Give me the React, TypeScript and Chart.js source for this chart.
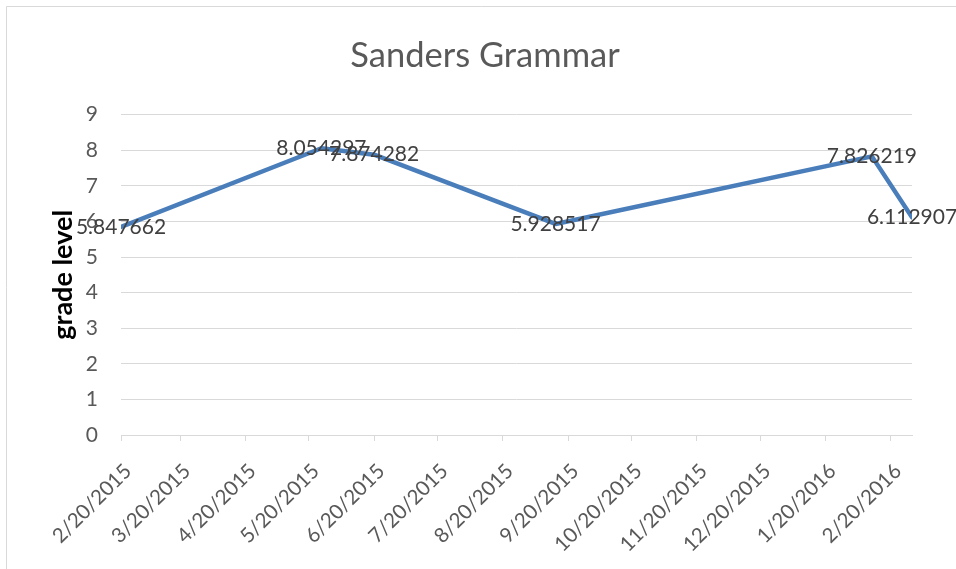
import React, { useEffect, useRef } from "react";
import { Chart, registerables } from "chart.js";

Chart.register(...registerables);

const chartTitle = "Sanders Grammar";
const yAxisTitle = "grade level";
const pointDates = ["2/20/2015", "5/26/2015", "6/20/2015", "9/14/2015", "2/11/2016", "3/1/2016"];
const gradeValues = [5.847662, 8.054297, 7.874282, 5.928517, 7.826219, 6.112907];
const xTickLabels = [
  "2/20/2015", "3/20/2015", "4/20/2015", "5/20/2015", "6/20/2015", "7/20/2015", "8/20/2015",
  "9/20/2015", "10/20/2015", "11/20/2015", "12/20/2015", "1/20/2016", "2/20/2016",
];
const yMin = 0;
const yMax = 9;

const FONT = "Lato, 'Open Sans', sans-serif";

function toDay(s: string): number {
  const [m, d, y] = s.split("/").map(Number);
  return Math.round(Date.UTC(y, m - 1, d) / 86400000);
}

const W = 956;
const H = 569;

export default function App() {
  const ref = useRef<HTMLCanvasElement | null>(null);

  useEffect(() => {
    if (!ref.current) return;
    const tickDays = xTickLabels.map(toDay);
    const labelByDay: Record<number, string> = {};
    xTickLabels.forEach((l, i) => (labelByDay[tickDays[i]] = l));
    const points = pointDates.map((d, i) => ({ x: toDay(d), y: gradeValues[i] }));

    const frame = {
      id: "frame",
      beforeDraw(chart: any) {
        const ctx = chart.ctx;
        ctx.save();
        ctx.fillStyle = "#ffffff";
        ctx.fillRect(0, 0, chart.width, chart.height);
        ctx.strokeStyle = "#d9d9d9";
        ctx.lineWidth = 1;
        ctx.beginPath();
        ctx.moveTo(6.5, chart.height);
        ctx.lineTo(6.5, 6.5);
        ctx.lineTo(chart.width, 6.5);
        ctx.stroke();
        ctx.restore();
      },
    };

    // centre the title on the whole chart frame (as the spreadsheet does)
    const titleCentre = {
      id: "titleCentre",
      afterLayout(chart: any) {
        const t = chart.titleBlock;
        if (t) {
          t.left = 14;
          t.right = chart.width;
        }
      },
    };

    const dataLabels = {
      id: "dataLabels",
      afterDatasetsDraw(chart: any) {
        const ctx = chart.ctx;
        const meta = chart.getDatasetMeta(0);
        ctx.save();
        ctx.font = `21px ${FONT}`;
        ctx.fillStyle = "#404040";
        ctx.textAlign = "center";
        ctx.textBaseline = "middle";
        meta.data.forEach((el: any, i: number) => {
          ctx.fillText(String(gradeValues[i]), el.x, el.y);
        });
        ctx.restore();
      },
    };

    const chart = new Chart(ref.current, {
      type: "line",
      data: {
        datasets: [
          {
            label: chartTitle,
            data: points,
            borderColor: "#4a7ebb",
            borderWidth: 4.5,
            pointRadius: 0,
            tension: 0,
            fill: false,
            borderCapStyle: "round",
            borderJoinStyle: "round",
          },
        ],
      },
      options: {
        animation: false,
        responsive: false,
        layout: { padding: { left: 0, right: 44, top: 0, bottom: 0 } },
        plugins: {
          legend: { display: false },
          tooltip: { enabled: false },
          title: {
            display: true,
            text: chartTitle,
            color: "#595959",
            font: { family: FONT, size: 34.5, weight: "normal" },
            padding: { top: 35, bottom: 38.2 },
          },
        },
        scales: {
          x: {
            type: "linear",
            min: toDay(pointDates[0]),
            max: toDay(pointDates[pointDates.length - 1]),
            afterBuildTicks(scale: any) {
              scale.ticks = tickDays.map((v) => ({ value: v }));
            },
            afterFit(scale: any) {
              scale.height = 134;
            },
            ticks: {
              autoSkip: false,
              maxRotation: 45,
              minRotation: 45,
              padding: 18,
              labelOffset: 7,
              color: "#595959",
              font: { family: FONT, size: 20.5 },
              callback: (v: any) => labelByDay[v as number] ?? "",
            },
            grid: {
              display: true,
              drawOnChartArea: false,
              drawTicks: true,
              tickLength: 6,
              color: "#d9d9d9",
            },
            border: { display: true, color: "#d9d9d9", width: 1 },
          },
          y: {
            min: yMin,
            max: yMax,
            afterFit(scale: any) {
              scale.width = 121;
            },
            ticks: {
              stepSize: 1,
              padding: 23,
              color: "#595959",
              font: { family: FONT, size: 21 },
            },
            grid: { color: "#d9d9d9", drawTicks: false, lineWidth: 1 },
            border: { display: false },
            title: {
              display: true,
              text: yAxisTitle,
              color: "#000000",
              font: { family: FONT, size: 27, weight: "bold" },
              padding: { top: 47, bottom: 0 },
            },
          },
        },
      },
      plugins: [frame, titleCentre, dataLabels],
    } as any);

    return () => chart.destroy();
  }, []);

  return (
    <div style={{ position: "absolute", left: 0, top: 0, width: W, height: H }}>
      <canvas ref={ref} width={W} height={H} style={{ display: "block" }} />
    </div>
  );
}
